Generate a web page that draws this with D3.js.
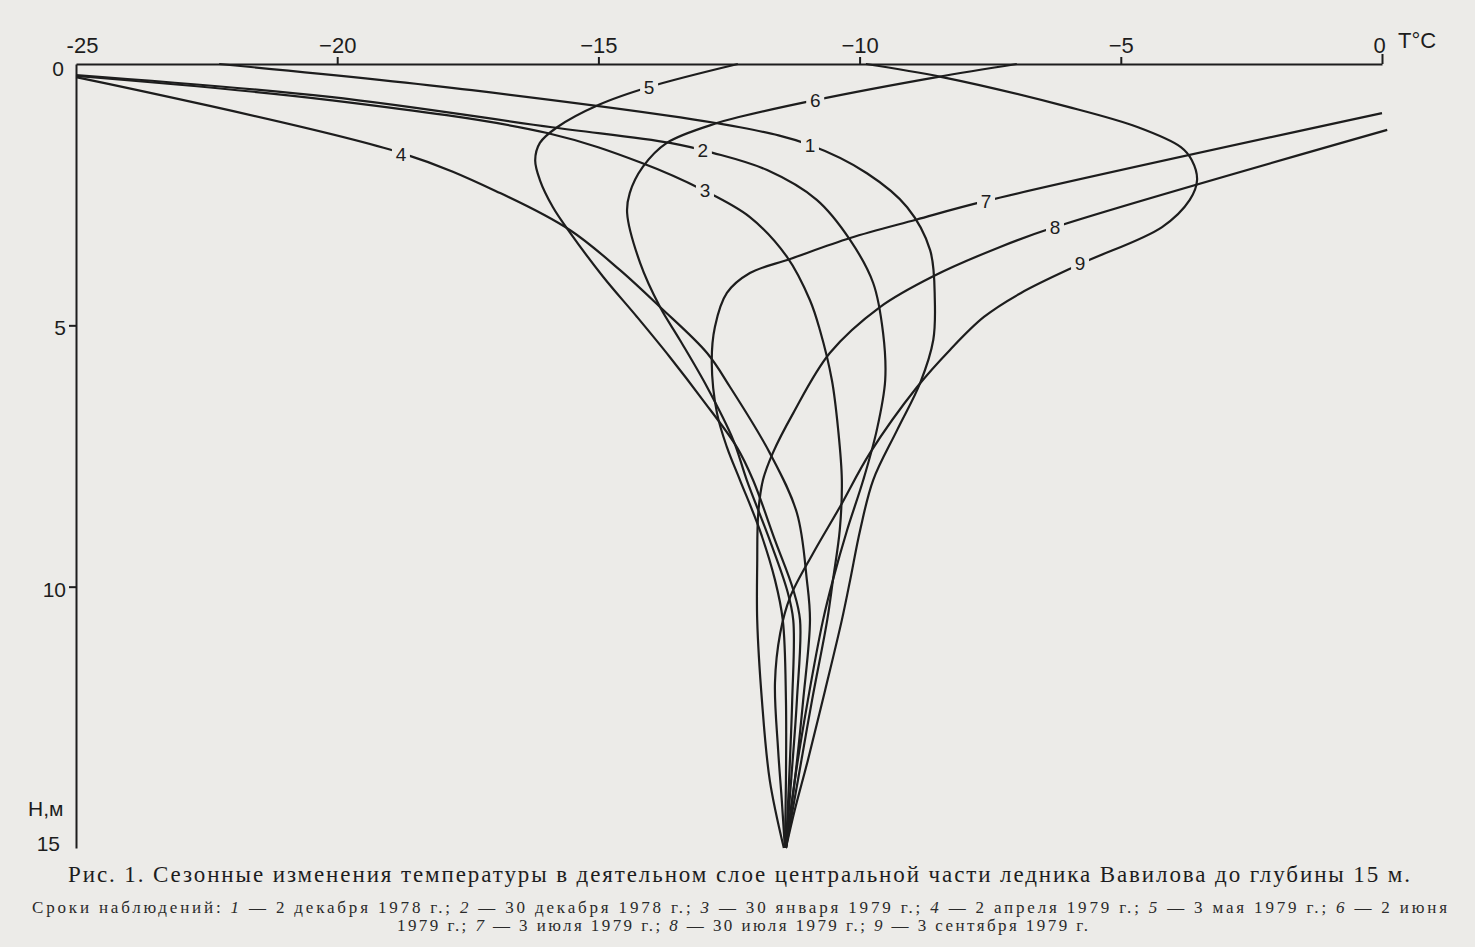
<!DOCTYPE html>
<html><head><meta charset="utf-8">
<script src="https://cdn.jsdelivr.net/npm/d3@7"></script>
<style>
html,body{margin:0;padding:0;background:#ecebe8;}
svg{display:block}
</style></head><body>
<svg id="chart" width="1475" height="947"></svg>
<script>
// ---- tick labels ----
const xTicks = [-25, -20, -15, -10, -5, 0];
const xTickLabels = ["-25", "\u221220", "\u221215", "\u221210", "\u22125", "0"];
const yTicks = [0, 5, 10, 15];
const yTickLabels = ["0", "5", "10", "15"];

// ---- temperature profiles [T °C, H m] ----
const curve1 = [[-22.26,0],[-17.42,0.50],[-12.29,1.21],[-10.95,1.55],[-9.86,2.09],[-9.09,2.74],[-8.65,3.56],[-8.56,4.52],[-8.59,5.28],[-8.84,6.10],[-9.28,7.00],[-9.74,7.96],[-9.99,8.92],[-10.18,9.87],[-10.34,10.64],[-10.66,11.98],[-10.99,13.32],[-11.24,14.27],[-11.41,15]];
const curve2 = [[-25,0.21],[-20.14,0.63],[-15.89,1.21],[-13.63,1.51],[-12.81,1.70],[-11.77,2.03],[-10.82,2.60],[-10.18,3.37],[-9.74,4.19],[-9.55,5.15],[-9.51,6.05],[-9.67,7.00],[-9.93,7.96],[-10.24,8.92],[-10.51,9.87],[-10.70,10.64],[-10.99,12.17],[-11.24,13.70],[-11.41,15]];
const curve3 = [[-25,0.23],[-20.14,0.69],[-15.98,1.32],[-14.18,1.89],[-13.00,2.41],[-12.10,2.93],[-11.39,3.69],[-10.95,4.52],[-10.76,5.09],[-10.53,6.05],[-10.41,7.00],[-10.34,7.96],[-10.38,8.92],[-10.51,9.87],[-10.62,10.64],[-10.91,12.17],[-11.18,13.70],[-11.41,15]];
const curve4 = [[-25,0.25],[-18.78,1.70],[-16.88,2.47],[-15.54,3.18],[-14.59,3.94],[-13.82,4.65],[-12.92,5.53],[-12.48,6.18],[-11.72,7.44],[-11.20,8.59],[-11.01,9.87],[-10.95,10.64],[-11.08,12.17],[-11.24,13.70],[-11.41,15]];
const curve5 = [[-12.33,0],[-14.03,0.44],[-14.99,0.78],[-15.79,1.21],[-16.12,1.51],[-16.21,1.84],[-16.12,2.22],[-15.87,2.74],[-15.54,3.23],[-14.91,4.07],[-14.26,4.84],[-13.63,5.61],[-13.00,6.43],[-12.35,7.33],[-12.04,7.96],[-11.62,9.11],[-11.27,10.06],[-11.14,10.64],[-11.20,12.17],[-11.31,13.70],[-11.41,15]];
const curve6 = [[-6.99,0],[-8.52,0.25],[-10.85,0.69],[-12.29,1.01],[-12.73,1.13],[-13.69,1.51],[-14.15,1.97],[-14.40,2.47],[-14.45,2.85],[-14.20,3.81],[-13.82,4.65],[-13.44,5.28],[-12.92,6.18],[-12.42,7.19],[-12.16,7.96],[-11.72,9.11],[-11.39,10.06],[-11.27,10.64],[-11.29,12.17],[-11.35,13.70],[-11.41,15]];
const curve7 = [[0,0.94],[-7.58,2.62],[-8.92,2.98],[-10.18,3.33],[-11.33,3.73],[-12.10,4.00],[-12.54,4.38],[-12.77,5.03],[-12.83,5.72],[-12.73,6.68],[-12.54,7.33],[-12.29,7.96],[-11.91,8.92],[-11.62,9.87],[-11.47,10.64],[-11.41,12.17],[-11.41,13.70],[-11.43,15]];
const curve8 = [[0.1,1.26],[-6.26,3.12],[-7.31,3.50],[-8.61,4.07],[-9.61,4.65],[-10.57,5.53],[-11.27,6.68],[-11.66,7.44],[-11.85,7.96],[-11.94,8.59],[-11.96,9.55],[-11.96,10.64],[-11.87,12.17],[-11.72,13.70],[-11.45,15]];
const curve9 = [[-9.88,0],[-8.42,0.25],[-6.01,0.82],[-4.67,1.21],[-3.85,1.59],[-3.64,1.84],[-3.54,2.22],[-3.68,2.60],[-4.21,3.12],[-5.74,3.81],[-6.91,4.38],[-7.62,4.84],[-8.27,5.47],[-8.90,6.18],[-9.80,7.44],[-10.38,8.48],[-10.89,9.36],[-11.33,10.20],[-11.52,10.89],[-11.62,11.84],[-11.56,13.12],[-11.49,14.08],[-11.43,15]];

const seriesNames = ["1","2","3","4","5","6","7","8","9"];
// curve number label positions [T, H]
const labelT = [-10.95, -13.00, -12.96, -18.78, -14.03, -10.85, -7.58, -6.26, -5.78];
const labelH = [1.55, 1.65, 2.41, 1.72, 0.44, 0.69, 2.63, 3.12, 3.81];

const captionTitle = "Рис. 1. Сезонные изменения температуры в деятельном слое центральной части ледника Вавилова до глубины 15 м.";
const captionLine2 = [["Сроки наблюдений: ",0],["1",1],[" — 2 декабря 1978 г.; ",0],["2",1],[" — 30 декабря 1978 г.; ",0],["3",1],[" — 30 января 1979 г.; ",0],["4",1],[" — 2 апреля 1979 г.; ",0],["5",1],[" — 3 мая 1979 г.; ",0],["6",1],[" — 2 июня",0]];
const captionLine3 = [["1979 г.; ",0],["7",1],[" — 3 июля 1979 г.; ",0],["8",1],[" — 30 июля 1979 г.; ",0],["9",1],[" — 3 сентября 1979 г.",0]];

const curves = [curve1, curve2, curve3, curve4, curve5, curve6, curve7, curve8, curve9];

// ---- drawing ----
const BG = "#ecebe8";
const INK = "#1d1d1d";
const svg = d3.select("#chart");
svg.append("rect").attr("width",1475).attr("height",947).attr("fill",BG);

const x = d3.scaleLinear().domain([-25, 0]).range([76, 1382]);
const y = d3.scaleLinear().domain([0, 15]).range([64, 848]);

const line = d3.line().x(d => x(d[0])).y(d => y(d[1])).curve(d3.curveCatmullRom.alpha(0.5));

const gCurves = svg.append("g");
curves.forEach(c => {
  gCurves.append("path").attr("d", line(c)).attr("fill","none")
    .attr("stroke", INK).attr("stroke-width", 2.2).attr("stroke-linejoin","round");
});

// curve labels with paper-coloured gap
const gLab = svg.append("g");
seriesNames.forEach((n, i) => {
  const cx = x(labelT[i]), cy = y(labelH[i]);
  gLab.append("rect").attr("x", cx - 9).attr("y", cy - 11).attr("width", 18).attr("height", 22).attr("fill", BG);
  gLab.append("text").attr("x", cx).attr("y", cy).attr("dy", "0.36em")
    .attr("text-anchor","middle").attr("font-family","'Liberation Sans', Arial, sans-serif")
    .attr("font-size", 19).attr("fill", INK).text(n);
});

// top X axis
const xAxis = d3.axisTop(x).tickValues(xTicks).tickFormat((d,i) => xTickLabels[i])
  .tickSizeInner(7).tickSizeOuter(0).tickPadding(4);
const gx = svg.append("g").attr("transform", `translate(0,${y(0)})`).call(xAxis);
gx.select(".domain").attr("stroke", INK).attr("stroke-width", 2);
gx.selectAll(".tick line").attr("stroke", INK).attr("stroke-width", 2)
  .attr("y2", d => d === 0 ? -10 : (d === -25 ? 0 : -7));
gx.selectAll(".tick text").attr("font-family","'Liberation Sans', Arial, sans-serif")
  .attr("font-size", 22).attr("fill", INK)
  .attr("dx", d => d === -25 ? 6 : (d === 0 ? -3 : 0));

svg.append("text").attr("x", 1398).attr("y", 48).attr("font-family","'Liberation Sans', Arial, sans-serif")
  .attr("font-size", 22).attr("fill", INK).text("T°C");

// left Y axis
const yAxis = d3.axisLeft(y).tickValues(yTicks).tickFormat((d,i) => yTickLabels[i])
  .tickSizeInner(7).tickSizeOuter(0).tickPadding(3);
const gy = svg.append("g").attr("transform", `translate(${x(-25)},0)`).call(yAxis);
gy.select(".domain").attr("stroke", INK).attr("stroke-width", 2);
gy.selectAll(".tick line").attr("stroke", INK).attr("stroke-width", 2)
  .attr("x2", d => (d === 0 || d === 15) ? 0 : -7);
gy.selectAll(".tick text").attr("font-family","'Liberation Sans', Arial, sans-serif")
  .attr("font-size", 21).attr("fill", INK)
  .attr("dy", d => d === 0 ? "0.55em" : (d === 15 ? "0.1em" : "0.45em"))
  .attr("dx", d => d === 0 ? -2 : (d === 15 ? -6 : 0));

svg.append("text").attr("x", 28).attr("y", 816).attr("font-family","'Liberation Sans', Arial, sans-serif")
  .attr("font-size", 21).attr("fill", INK).text("H,м");

// captions
const serif = "'Liberation Serif', 'DejaVu Serif', serif";
svg.append("text").attr("x", 68).attr("y", 882).attr("font-family", serif)
  .attr("font-size", 23).attr("fill", INK)
  .attr("textLength", 1342).attr("lengthAdjust","spacing").text(captionTitle);

function captionRow(parts, x0, yb, len) {
  const t = svg.append("text").attr("x", x0).attr("y", yb).attr("font-family", serif)
    .attr("font-size", 17).attr("fill", "#2a2a2a")
    .attr("textLength", len).attr("lengthAdjust","spacing");
  parts.forEach(p => t.append("tspan").attr("font-style", p[1] ? "italic" : "normal").text(p[0]));
}
captionRow(captionLine2, 32, 913, 1415);
captionRow(captionLine3, 397, 931, 691);
</script>
</body></html>
